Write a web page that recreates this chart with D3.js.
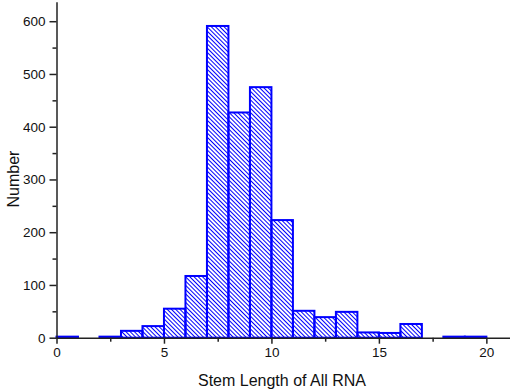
<!DOCTYPE html>
<html>
<head>
<meta charset="utf-8">
<script src="https://cdn.jsdelivr.net/npm/d3@7"></script>
<style>
  body { margin: 0; background: #fff; }
  svg { display: block; font-family: "Liberation Sans", Arial, sans-serif; }
  .axis path, .axis line { stroke: #222; }
  .axis text { fill: #111; font-size: 13.5px; }
</style>
</head>
<body>
<div id="chart"></div>
<script>

// bin start values (bin width 1) and counts
var binStarts = [0, 1, 2, 3, 4, 5, 6, 7, 8, 9, 10, 11, 12, 13, 14, 15, 16, 17, 18, 19];
var counts    = [2, 0, 2, 13, 22, 55, 117, 591, 427, 475, 223, 51, 39, 49, 10, 9, 26, 0, 2, 2];
var xTicks = [0, 5, 10, 15, 20];
var yTicks = [0, 100, 200, 300, 400, 500, 600];

var outerWidth = 510,
    outerHeight = 389;

var svg = d3.select("#chart").append("svg")
    .attr("width", outerWidth)
    .attr("height", outerHeight);

// hatch pattern
var defs = svg.append("defs");
defs.append("pattern")
    .attr("id", "hatch")
    .attr("patternUnits", "userSpaceOnUse")
    .attr("width", 3)
    .attr("height", 3)
    .attr("patternTransform", "rotate(45)")
  .append("line")
    .attr("x1", 0).attr("y1", 1.5)
    .attr("x2", 3).attr("y2", 1.5)
    .attr("stroke", "#0000ff")
    .attr("stroke-width", 1);

var x = d3.scaleLinear().domain([0, 21.1]).range([56.5, 510]);
var y = d3.scaleLinear().domain([0, 637]).range([337.7, 1.7]);

var data = binStarts.map(function (b, i) { return {x0: b, x1: b + 1, n: counts[i]}; })
    .filter(function (d) { return d.n > 0; });

// bars
svg.append("g").selectAll("rect")
    .data(data)
    .enter().append("rect")
    .attr("x", function (d) { return x(d.x0); })
    .attr("y", function (d) { return y(d.n); })
    .attr("width", function (d) { return x(d.x1) - x(d.x0); })
    .attr("height", function (d) { return y(0) - y(d.n); })
    .attr("fill", "url(#hatch)")
    .attr("stroke", "#0000ff")
    .attr("stroke-width", 2);

// x axis
var xAxis = svg.append("g")
    .attr("class", "axis")
    .attr("transform", "translate(0," + y(0) + ")");
xAxis.call(d3.axisBottom(x).tickValues(d3.range(2.5, 21, 5)).tickSize(4).tickFormat(""))
    .select(".domain").remove();
xAxis.append("g").call(d3.axisBottom(x).tickValues(xTicks).tickSize(6).tickSizeOuter(0).tickPadding(4));
xAxis.selectAll("path, line").attr("stroke-width", 1.5);

// y axis
var yAxis = svg.append("g")
    .attr("class", "axis")
    .attr("transform", "translate(" + x(0) + ",0)");
yAxis.call(d3.axisLeft(y).tickValues(d3.range(50, 637, 100)).tickSize(4).tickFormat(""))
    .select(".domain").remove();
yAxis.append("g").call(d3.axisLeft(y).tickValues(yTicks).tickSize(7).tickSizeOuter(0).tickPadding(4));
yAxis.selectAll("path, line").attr("stroke-width", 1.5);

// labels
svg.append("text")
    .attr("x", 282)
    .attr("y", 386)
    .attr("text-anchor", "middle")
    .style("font-size", "16px")
    .attr("fill", "#111")
    .text("Stem Length of All RNA");

svg.append("text")
    .attr("transform", "translate(19,179) rotate(-90)")
    .attr("text-anchor", "middle")
    .style("font-size", "16px")
    .attr("fill", "#111")
    .text("Number");

</script>
</body>
</html>
